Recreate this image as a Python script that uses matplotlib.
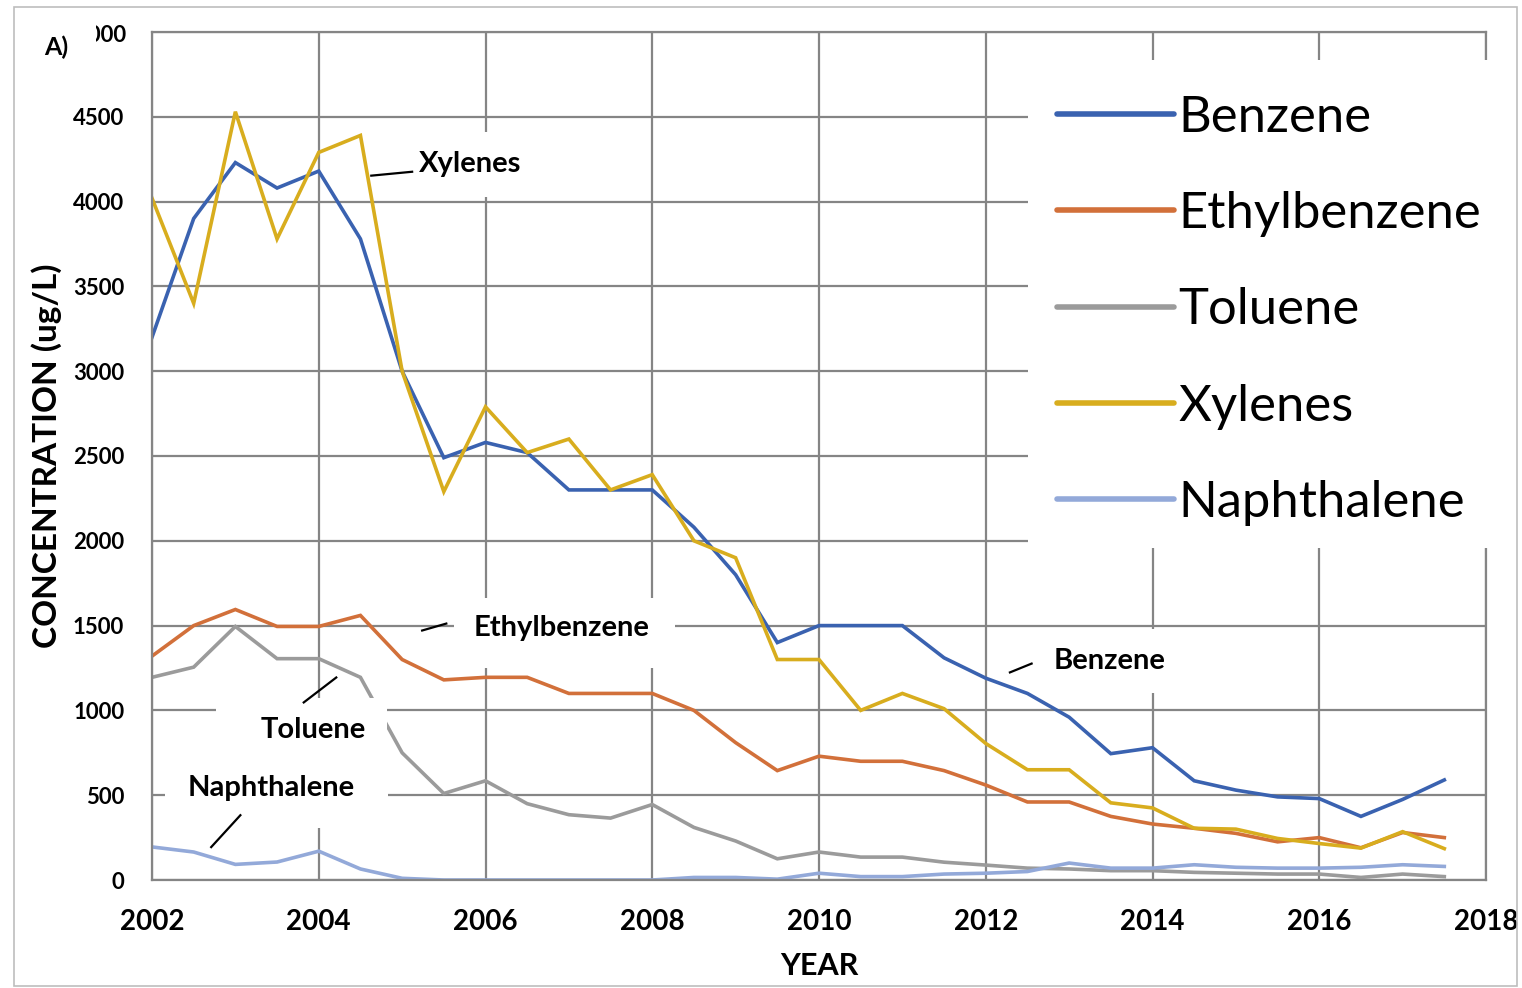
import matplotlib
matplotlib.use("Agg")
import matplotlib.pyplot as plt
from matplotlib.patches import Rectangle
from matplotlib.lines import Line2D
from matplotlib.transforms import Bbox, TransformedBbox

plt.rcParams['font.family'] = ['Lato', 'DejaVu Sans']

# ---------------- data ----------------
years = [2002 + 0.5 * i for i in range(32)]

benzene = [3200, 3900, 4230, 4080, 4180, 3780, 3000, 2490, 2580, 2520, 2300, 2300,
           2300, 2080, 1800, 1400, 1500, 1500, 1500, 1310, 1190, 1100, 960, 745,
           780, 585, 530, 490, 480, 375, 475, 590]
ethylbenzene = [1320, 1500, 1595, 1495, 1495, 1560, 1300, 1180, 1195, 1195, 1100, 1100,
                1100, 1000, 810, 645, 730, 700, 700, 645, 560, 460, 460, 375,
                330, 305, 275, 225, 250, 190, 280, 250]
toluene = [1195, 1255, 1495, 1305, 1305, 1195, 750, 510, 585, 450, 385, 365,
           445, 310, 230, 125, 165, 135, 135, 105, 88, 70, 65, 55,
           55, 45, 40, 35, 35, 15, 35, 20]
xylenes = [4020, 3400, 4530, 3780, 4290, 4390, 3000, 2290, 2790, 2520, 2600, 2300,
           2390, 2000, 1900, 1300, 1300, 1000, 1100, 1010, 805, 650, 650, 455,
           425, 305, 300, 245, 215, 188, 285, 185]
naphthalene = [195, 165, 92, 106, 170, 65, 10, 0, 0, 0, 0, 0,
               0, 15, 15, 5, 40, 20, 20, 35, 40, 50, 100, 70,
               70, 90, 75, 70, 70, 75, 90, 80]

series_names = ["Benzene", "Ethylbenzene", "Toluene", "Xylenes", "Naphthalene"]
series_values = [benzene, ethylbenzene, toluene, xylenes, naphthalene]
series_colors = ["#3a62b0", "#d2703a", "#9b9b9b", "#d8ad1e", "#93a9d9"]

x_ticks = [2002, 2004, 2006, 2008, 2010, 2012, 2014, 2016, 2018]
y_ticks = [0, 500, 1000, 1500, 2000, 2500, 3000, 3500, 4000, 4500, 5000]

# ---------------- figure ----------------
W, H = 1522, 988
fig = plt.figure(figsize=(W / 100, H / 100), dpi=100)
fig.patch.set_facecolor("white")
ax = fig.add_axes([152 / W, 1 - 880 / H, (1486 - 152) / W, (880 - 32) / H])

grid_c = "#858585"
ax.set_xlim(2002, 2018)
ax.set_ylim(0, 5000)
ax.set_xticks(x_ticks)
ax.set_xticklabels([str(t) for t in x_ticks], fontsize=20, fontweight="bold")
ax.set_yticks(y_ticks)
ax.set_yticklabels([str(t) if t != 5000 else "" for t in y_ticks],
                   fontsize=16, fontweight="bold")
ax.tick_params(axis="x", length=0, pad=21)
ax.tick_params(axis="y", length=0, pad=20)
ax.grid(True, color=grid_c, linewidth=1.6)
ax.set_axisbelow(True)
for s in ax.spines.values():
    s.set_color(grid_c)
    s.set_linewidth(1.6)

# top tick label, partially hidden as in the original
top_lbl = fig.text(126 / W, 1 - 35 / H, "5000", fontsize=16, fontweight="bold",
                   ha="right", va="center")
top_lbl.set_clip_box(TransformedBbox(Bbox([[96 / W, 0], [1, 1]]), fig.transFigure))
top_lbl.set_clip_on(True)

ax.set_xlabel("YEAR", fontsize=22, fontweight="bold", labelpad=12)
ax.set_ylabel("CONCENTRATION (ug/L)", fontsize=24, fontweight="bold", labelpad=8)

for name, vals, c in zip(series_names, series_values, series_colors):
    ax.plot(years, vals, color=c, linewidth=2.6, zorder=2,
            solid_joinstyle="miter", label=name)

# ---------------- label boxes, labels, leader lines ----------------
def box(x0, x1, y0, y1):
    ax.add_patch(Rectangle((x0, y0), x1 - x0, y1 - y0, facecolor="white",
                           edgecolor="none", zorder=2.5))

box(2005.10, 2006.70, 4030, 4410)   # Xylenes
box(2005.62, 2008.27, 1250, 1665)   # Ethylbenzene
box(2002.77, 2004.82, 676, 1076)    # Toluene
box(2002.16, 2004.83, 306, 706)     # Naphthalene
box(2012.65, 2014.39, 1100, 1482)   # Benzene

lab_kw = dict(fontsize=21, fontweight="bold", ha="center", va="center", zorder=3)
ax.text(2005.82, 4224, "Xylenes", **lab_kw)
ax.text(2006.91, 1488, "Ethylbenzene", **lab_kw)
ax.text(2003.93, 882, "Toluene", **lab_kw)
ax.text(2003.43, 541, "Naphthalene", **lab_kw)
ax.text(2013.49, 1294, "Benzene", **lab_kw)

for (xa, ya), (xb, yb) in [((2004.63, 4153), (2005.12, 4176)),
                           ((2005.24, 1471), (2005.53, 1512)),
                           ((2003.82, 1047), (2004.21, 1194)),
                           ((2002.71, 194), (2003.06, 382)),
                           ((2012.29, 1224), (2012.55, 1276))]:
    ax.plot([xa, xb], [ya, yb], color="black", linewidth=1.6, zorder=3)

# ---------------- legend ----------------
fig.patches.append(Rectangle((1028 / W, 1 - 548 / H), (1500 - 1028) / W, (548 - 60) / H,
                             transform=fig.transFigure, facecolor="white",
                             edgecolor="none", zorder=4))
leg_handles = [Line2D([0], [0], color=c, linewidth=4.0, solid_capstyle="round")
               for c in series_colors]
leg = fig.legend(leg_handles, series_names, loc="upper left",
                 bbox_to_anchor=(1057 / W, 1 - 95 / H), bbox_transform=fig.transFigure,
                 frameon=False, fontsize=36.5, borderpad=0, borderaxespad=0,
                 handlelength=2.3, handletextpad=0.1, labelspacing=0.99)
leg.set_zorder(6)

# "A)" panel label
fig.text(56 / W, 1 - 47 / H, "A)", fontsize=18, fontweight="bold", ha="center", va="center")

# outer thin border
fig.patches.append(Rectangle((14 / W, 1 - 986 / H), (1517 - 14) / W, (986 - 7) / H,
                             transform=fig.transFigure, facecolor="none",
                             edgecolor="#bdbdbd", linewidth=1.2, zorder=0))

fig.savefig("out.png", dpi=100, facecolor="white")
